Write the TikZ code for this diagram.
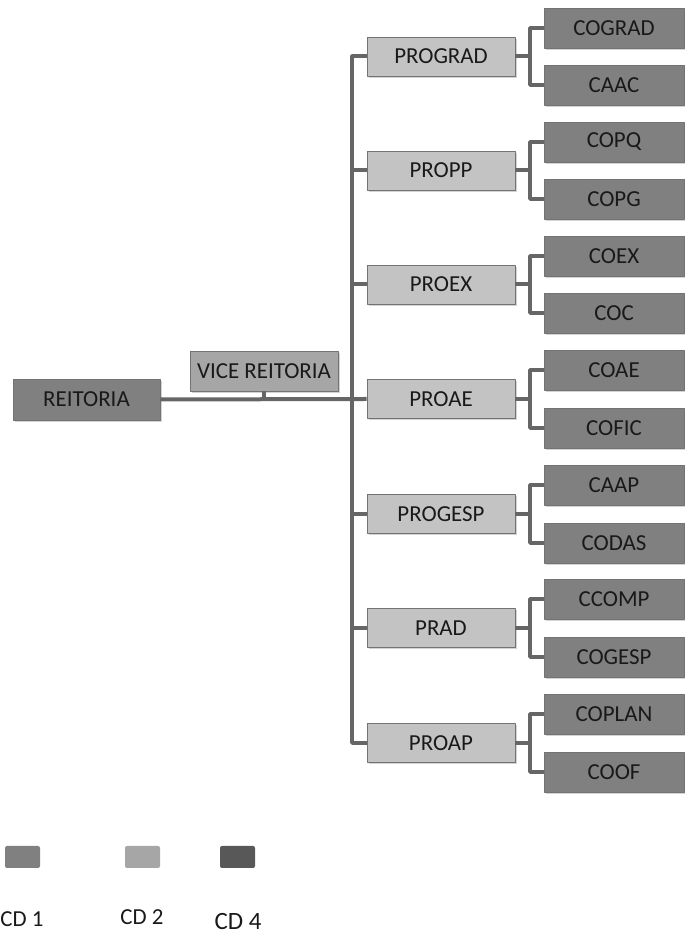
\documentclass[tikz,border=0pt]{standalone}
\usepackage{fontspec}
\setmainfont{Carlito}
\usetikzlibrary{positioning,shadows}
\definecolor{cdone}{HTML}{808080}
\definecolor{cdtwo}{HTML}{A6A6A6}
\definecolor{cdthree}{HTML}{C3C3C3}
\definecolor{cdfour}{HTML}{585858}
\definecolor{linegray}{HTML}{666666}
\begin{document}
\begin{tikzpicture}[line join=bevel,
  every node/.style={font=\fontsize{23}{27}\selectfont, text=black!90},
  box/.style={draw=black!55, line width=0.6bp, inner sep=0pt,
    drop shadow={opacity=0.35, shadow xshift=1.5bp, shadow yshift=-2bp}},
  topbox/.style={box, fill=cdone, minimum width=147bp, minimum height=41bp},
  vicebox/.style={box, fill=cdtwo, minimum width=148bp, minimum height=40bp},
  probox/.style={box, fill=cdthree, minimum width=148bp, minimum height=39bp},
  cobox/.style={box, fill=cdone, minimum width=140bp, minimum height=40bp},
  keybox/.style={fill=#1, rounded corners=2bp, minimum width=35bp, minimum height=22bp, inner sep=0pt},
  conn/.style={draw=linegray, line width=4bp}]
\useasboundingbox (0bp,0bp) rectangle (685bp,937bp);
%%
\node (node_reitoria) at (86.5bp,537.5bp) [topbox] {REITORIA};
  \node (node_vice) at (264bp,566bp) [vicebox] {VICE REITORIA};
  \node (node_prograd) at (441bp,880.5bp) [probox] {PROGRAD};
  \node (node_propp) at (441bp,766.5bp) [probox] {PROPP};
  \node (node_proex) at (441bp,652.5bp) [probox] {PROEX};
  \node (node_proae) at (441bp,538bp) [probox] {PROAE};
  \node (node_progesp) at (441bp,423bp) [probox] {PROGESP};
  \node (node_prad) at (441bp,309bp) [probox] {PRAD};
  \node (node_proap) at (441bp,194bp) [probox] {PROAP};
  \node (node_cograd) at (614bp,909bp) [cobox] {COGRAD};
  \node (node_caac) at (614bp,852bp) [cobox] {CAAC};
  \node (node_copq) at (614bp,795bp) [cobox] {COPQ};
  \node (node_copg) at (614bp,738bp) [cobox] {COPG};
  \node (node_coex) at (614bp,681bp) [cobox] {COEX};
  \node (node_coc) at (614bp,624bp) [cobox] {COC};
  \node (node_coae) at (614bp,567bp) [cobox] {COAE};
  \node (node_cofic) at (614bp,509bp) [cobox] {COFIC};
  \node (node_caap) at (614bp,452bp) [cobox] {CAAP};
  \node (node_codas) at (614bp,394bp) [cobox] {CODAS};
  \node (node_ccomp) at (614bp,338bp) [cobox] {CCOMP};
  \node (node_cogesp) at (614bp,280bp) [cobox] {COGESP};
  \node (node_coplan) at (614bp,223bp) [cobox] {COPLAN};
  \node (node_coof) at (614bp,165bp) [cobox] {COOF};
%% legend
  \node (key_1) at (22.5bp,80bp) [keybox=cdone] {};
  \node (key_2) at (142.5bp,80bp) [keybox=cdtwo] {};
  \node (key_4) at (237.5bp,80bp) [keybox=cdfour] {};
  \node (label_1) at (22bp,18bp) {CD 1};
  \node (label_2) at (142bp,20bp) {CD 2};
  \node (label_4) at (238bp,15bp) [font=\fontsize{25}{29}\selectfont] {CD 4};
%% connectors
  \begin{scope}[on background layer/.try]
  \draw [conn] (node_reitoria.east) -- (node_proae.west);
  \draw [conn] (node_vice.south) -- (node_vice.south |- node_reitoria.east);
  \draw [conn] (node_prograd.west) -- ++(-15bp,0) |- (node_proap.west);
  \draw [conn] (node_propp.west) -- ++(-15bp,0);
  \draw [conn] (node_proex.west) -- ++(-15bp,0);
  \draw [conn] (node_progesp.west) -- ++(-15bp,0);
  \draw [conn] (node_prad.west) -- ++(-15bp,0);
  \draw [conn] (node_prograd.east) -- ++(15bp,0);
  \draw [conn] (node_cograd.west) -- ++(-14bp,0) |- (node_caac.west);
  \draw [conn] (node_propp.east) -- ++(15bp,0);
  \draw [conn] (node_copq.west) -- ++(-14bp,0) |- (node_copg.west);
  \draw [conn] (node_proex.east) -- ++(15bp,0);
  \draw [conn] (node_coex.west) -- ++(-14bp,0) |- (node_coc.west);
  \draw [conn] (node_proae.east) -- ++(15bp,0);
  \draw [conn] (node_coae.west) -- ++(-14bp,0) |- (node_cofic.west);
  \draw [conn] (node_progesp.east) -- ++(15bp,0);
  \draw [conn] (node_caap.west) -- ++(-14bp,0) |- (node_codas.west);
  \draw [conn] (node_prad.east) -- ++(15bp,0);
  \draw [conn] (node_ccomp.west) -- ++(-14bp,0) |- (node_cogesp.west);
  \draw [conn] (node_proap.east) -- ++(15bp,0);
  \draw [conn] (node_coplan.west) -- ++(-14bp,0) |- (node_coof.west);
  \end{scope}
%
\end{tikzpicture}
\end{document}
